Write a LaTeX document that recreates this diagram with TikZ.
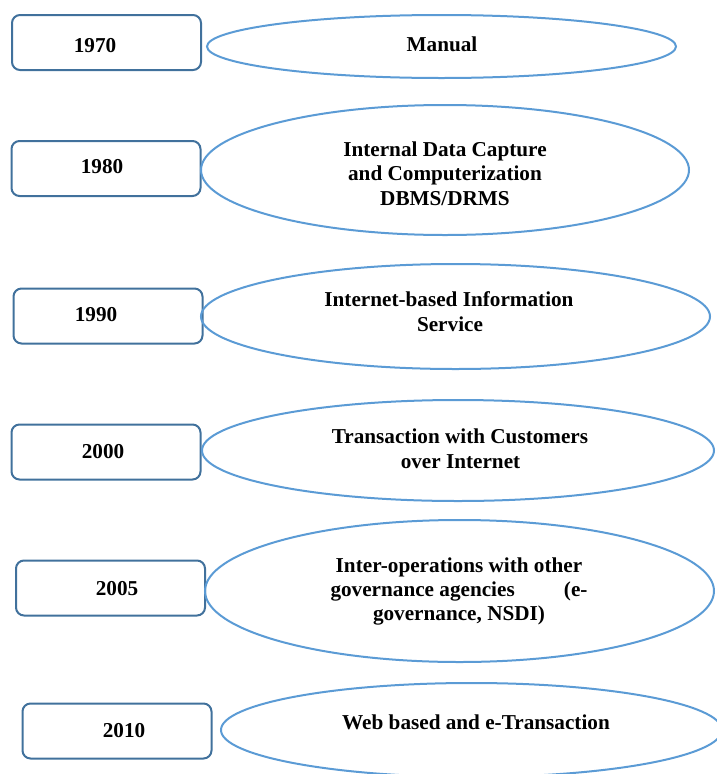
\documentclass[tikz,border=0pt]{standalone}
\usepackage{fontspec}
\setmainfont{Liberation Serif}
\usetikzlibrary{shapes.geometric}
\definecolor{boxline}{HTML}{41719C}
\definecolor{ellline}{HTML}{5B9BD5}
\tikzset{
  yearbox/.style={draw=boxline, line width=2pt, rounded corners=8pt, minimum width=189pt, minimum height=55pt, inner sep=0pt},
  era/.style={draw=ellline, line width=2pt, ellipse, inner sep=0pt},
  lbl/.style={anchor=base, inner sep=0pt, font=\fontsize{21.2}{25}\selectfont\bfseries}
}
\begin{document}
\begin{tikzpicture}[x=1pt,y=-1pt]
\useasboundingbox (0,0) rectangle (717,774);
\begin{scope}
\clip (0,0) rectangle (717,774);
% boxes
\node[yearbox] (b1) at (106.5,42.5) {};
\node[yearbox] (b2) at (106,168.5) {};
\node[yearbox] (b3) at (108,316) {};
\node[yearbox] (b4) at (106,452) {};
\node[yearbox] (b5) at (110.5,588) {};
\node[yearbox] (b6) at (117,731) {};
% ellipses
\node[era, minimum width=469pt, minimum height=63pt] (e1) at (441.5,46.5) {};
\node[era, minimum width=488pt, minimum height=130pt] (e2) at (445,170) {};
\node[era, minimum width=509pt, minimum height=105pt] (e3) at (455.5,316.5) {};
\node[era, minimum width=512pt, minimum height=101pt] (e4) at (458,450.5) {};
\node[era, minimum width=509pt, minimum height=142pt] (e5) at (459.5,591) {};
\node[era, minimum width=501pt, minimum height=94pt] (e6) at (471.5,730) {};
\end{scope}
% year labels
\node[lbl] (y1) at (95,52) {1970};
\node[lbl] (y2) at (102,173) {1980};
\node[lbl] (y3) at (96,321.5) {1990};
\node[lbl] (y4) at (103,458) {2000};
\node[lbl] (y5) at (117,595) {2005};
\node[lbl] (y6) at (124,737.5) {2010};
% ellipse labels
\node[lbl] (t1) at (442,51.5) {Manual};
\node[lbl] (t2a) at (445,156) {Internal Data Capture};
\node[lbl] (t2b) at (445,180.5) {and Computerization};
\node[lbl] (t2c) at (445,205) {DBMS/DRMS};
\node[lbl] (t3a) at (449,306) {Internet-based Information};
\node[lbl] (t3b) at (450,331) {Service};
\node[lbl] (t4a) at (460,443) {Transaction with Customers};
\node[lbl] (t4b) at (460.5,468) {over Internet};
\node[lbl] (t5a) at (459,572) {Inter-operations with other};
\node[lbl] (t5b) at (459,596) {\makebox[257pt][l]{governance agencies\hfill(e-}};
\node[lbl] (t5c) at (459,620) {governance, NSDI)};
\node[lbl] (t6) at (476,729.5) {Web based and e-Transaction};
\end{tikzpicture}
\end{document}
